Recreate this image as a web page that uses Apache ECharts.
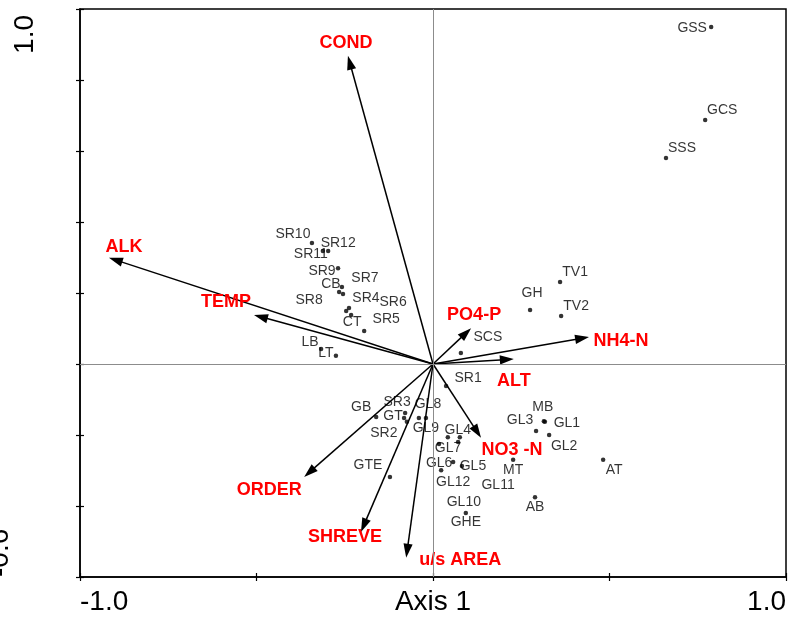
<!DOCTYPE html>
<html>
<head>
<meta charset="utf-8">
<script src="https://cdn.jsdelivr.net/npm/echarts@6/dist/echarts.min.js"></script>
<style>html,body{margin:0;padding:0;background:#fff;}#c{width:791px;height:617px;}</style>
</head>
<body>
<div id="c"></div>
<script>
// ---- data ----
const siteNames = ['GSS','GCS','SSS','SR10','SR12','SR11','SR9','CB','SR7','SR8','SR4','SR6','CT','SR5','LB','LT','SCS','GH','TV1','TV2','SR1','GB','SR3','GT','SR2','GL8','GL9','GL4','GL7','GL6','GL5','GL12','GL10','GL11','GTE','GHE','MB','GL1','GL3','GL2','MT','AT','AB'];
const siteX = [0.788,0.771,0.660,-0.343,-0.297,-0.312,-0.269,-0.258,-0.255,-0.266,-0.238,-0.232,-0.246,-0.195,-0.317,-0.275,0.079,0.275,0.360,0.363,0.037,-0.161,-0.079,-0.082,-0.074,-0.020,-0.040,0.042,0.017,0.023,0.082,0.057,0.076,0.071,-0.122,0.093,0.314,0.317,0.292,0.329,0.227,0.482,0.289];
const siteY = [0.949,0.687,0.580,0.341,0.318,0.318,0.270,0.217,0.197,0.203,0.158,0.138,0.149,0.093,0.042,0.023,0.031,0.152,0.231,0.135,-0.062,-0.149,-0.138,-0.152,-0.163,-0.152,-0.152,-0.206,-0.225,-0.299,-0.287,-0.276,-0.206,-0.220,-0.318,-0.420,-0.161,-0.163,-0.189,-0.200,-0.270,-0.270,-0.375];

const envNames = ['COND','ALK','TEMP','PO4-P','NH4-N','ALT','NO3 -N','ORDER','SHREVE','u/s AREA'];
const envX = [-0.241,-0.918,-0.507,0.108,0.442,0.229,0.136,-0.365,-0.204,-0.076];
const envY = [0.868,0.299,0.138,0.101,0.076,0.014,-0.208,-0.318,-0.473,-0.546];

const xTickLabels = {'-1':'-1.0','1':'1.0'};
const yTickLabels = ['1.0','-0.6'];
const xAxisTitle = 'Axis 1';

// ---- layout (label offsets in px, kept apart from data) ----
const siteLabelOffset = [[-19,1],[17,-10],[16,-10],[-19,-9],[10,-8],[-12,3],[-16,3],[-11,-3],[22,-16],[-30,8],[17,-10],[42,-13],[6,11],[22,-12],[-11,-7],[-10,-3],[27,-16],[2,-17],[15,-10],[15,-10],[22,-8],[-15,-10],[-8,-11],[-11,-2],[-23,11],[2,-14],[7,10],[10,-7],[9,4],[-2,-7],[11,0],[0,20],[4,65],[40,43],[-22,-12],[0,9],[-1,-14],[22,1],[-16,-11],[15,11],[0,10],[11,10],[0,10]];
const envLabelOffset = [[-2,-13],[15,-11],[-28,-13],[3,-13],[32,4],[0,22],[31,12],[-35,13],[-16,5],[54,2]];

const FONT = "'Liberation Sans', Arial, sans-serif";
const chart = echarts.init(document.getElementById('c'), null, {renderer:'canvas'});

const siteData = siteNames.map((n,i)=>({
  name:n, value:[siteX[i], siteY[i]],
  label:{offset:siteLabelOffset[i]}
}));
const envData = envNames.map((n,i)=>[envX[i], envY[i], i]);

const gridBox = {left:80, right:5, top:9, bottom:40, containLabel:false, outerBoundsMode:'none'};
const xRange = {min:-1, max:1, interval:0.5};
const yRange = {min:-0.6, max:1.0, interval:0.2};

const axisCommon = {
  type:'value',
  splitLine:{show:false},
  axisLine:{show:true, onZero:false, lineStyle:{color:'#000', width:1.5}},
  axisTick:{show:true, length:4, lineStyle:{color:'#000', width:1.2}}
};
const innerTickAxis = {
  type:'value', splitLine:{show:false},
  axisLine:{show:false, onZero:false}, axisLabel:{show:false},
  axisTick:{show:true, inside:true, length:4, lineStyle:{color:'#000', width:1.2}}
};

const option = {
  animation:false,
  backgroundColor:'#fff',
  grid:[
    Object.assign({show:true, borderColor:'#000', borderWidth:1.5}, gridBox),
    Object.assign({show:false}, gridBox)
  ],
  xAxis:[
    Object.assign({}, axisCommon, xRange, {
      gridIndex:0, position:'bottom',
      name:xAxisTitle, nameLocation:'middle', nameGap:11, nameMoveOverlap:false,
      nameTextStyle:{fontSize:28, color:'#000', fontFamily:FONT, verticalAlign:'top'},
      axisLabel:{show:true, fontSize:28, color:'#000', fontFamily:FONT, margin:11,
        showMinLabel:true, showMaxLabel:true, alignMinLabel:'left', alignMaxLabel:'right',
        formatter:v=>xTickLabels[String(v)]||''}
    }),
    Object.assign({}, innerTickAxis, xRange, {gridIndex:1, position:'bottom'})
  ],
  yAxis:[
    Object.assign({}, axisCommon, yRange, {gridIndex:0, position:'left', axisLabel:{show:false}}),
    Object.assign({}, innerTickAxis, yRange, {gridIndex:1, position:'left'})
  ],
  graphic:[
    {type:'text', x:25, y:15, rotation:Math.PI/2,
     style:{text:yTickLabels[0], font:'28px '+FONT, fill:'#000', align:'right', verticalAlign:'middle'}},
    {type:'text', x:0, y:577, rotation:Math.PI/2,
     style:{text:yTickLabels[1], font:'28px '+FONT, fill:'#000', align:'left', verticalAlign:'middle'}}
  ],
  series:[
    {
      type:'scatter', data:[], xAxisIndex:0, yAxisIndex:0, silent:true, z:1,
      markLine:{silent:true, symbol:['none','none'], label:{show:false},
        lineStyle:{color:'#8c8c8c', width:1, type:'solid'},
        data:[{xAxis:0},{yAxis:0}]}
    },
    {
      type:'scatter', data:[], xAxisIndex:1, yAxisIndex:1, silent:true
    },
    {
      type:'custom', xAxisIndex:0, yAxisIndex:0, z:3, silent:true,
      data:envData,
      renderItem:function(params, api){
        const o = api.coord([0,0]);
        const t = api.coord([api.value(0), api.value(1)]);
        const idx = api.value(2);
        const ang = Math.atan2(t[1]-o[1], t[0]-o[0]);
        const L = 14, W = 4.6;
        const bx = t[0]-L*Math.cos(ang), by = t[1]-L*Math.sin(ang);
        const px = -Math.sin(ang)*W, py = Math.cos(ang)*W;
        const off = envLabelOffset[idx];
        return {type:'group', children:[
          {type:'line', shape:{x1:o[0], y1:o[1], x2:bx+(t[0]-bx)*0.3, y2:by+(t[1]-by)*0.3}, style:{stroke:'#000', lineWidth:1.5}},
          {type:'polygon', shape:{points:[[t[0],t[1]],[bx+px,by+py],[bx-px,by-py]]}, style:{fill:'#000'}},
          {type:'text', x:t[0]+off[0], y:t[1]+off[1],
           style:{text:envNames[idx], fill:'#ff0000', font:'bold 18px '+FONT, align:'center', verticalAlign:'middle'}}
        ]};
      }
    },
    {
      type:'scatter', xAxisIndex:0, yAxisIndex:0, z:4, silent:true,
      symbol:'circle', symbolSize:4.5,
      itemStyle:{color:'#000'},
      label:{show:true, position:'inside', formatter:'{b}', color:'#000', fontSize:14, fontFamily:FONT},
      data:siteData
    }
  ]
};
chart.setOption(option);
</script>
</body>
</html>
